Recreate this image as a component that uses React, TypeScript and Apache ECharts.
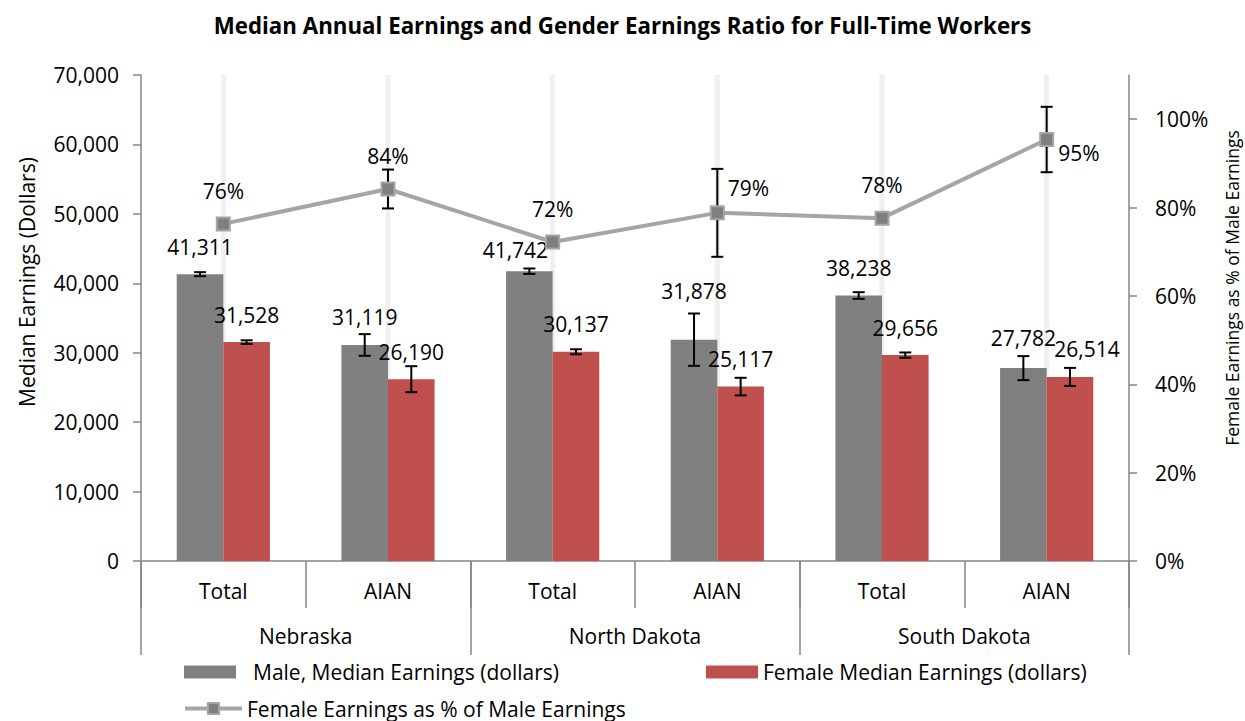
import React, { useEffect, useRef } from 'react';
import * as echarts from 'echarts';

// ---- data ----
const groups = ['Total', 'AIAN', 'Total', 'AIAN', 'Total', 'AIAN'];
const states = ['Nebraska', 'North Dakota', 'South Dakota'];
const maleEarnings = [41311, 31119, 41742, 31878, 38238, 27782];
const maleError = [290, 1560, 390, 3770, 480, 1730];
const femaleEarnings = [31528, 26190, 30137, 25117, 29656, 26514];
const femaleError = [260, 1870, 360, 1270, 380, 1300];
const ratio = [0.763, 0.842, 0.722, 0.788, 0.776, 0.954];
const ratioError = [0.005, 0.044, 0.005, 0.0995, 0.005, 0.074];
const leftTicks = [0, 10000, 20000, 30000, 40000, 50000, 60000, 70000];
const rightTicks = [0, 0.2, 0.4, 0.6, 0.8, 1.0];

const TITLE = 'Median Annual Earnings and Gender Earnings Ratio for Full-Time Workers';
const LEFT_NAME = 'Median Earnings (Dollars)';
const MALE_NAME = 'Male, Median Earnings (dollars)';
const FEMALE_NAME = 'Female Median Earnings (dollars)';
const RATIO_NAME = 'Female Earnings as % of Male Earnings';

const FONT = 'Open Sans';
const FS = 21;
const AXIS_COLOR = '#868686';
const BAR_GAP_PCT = 43.4;
const BAR_FRAC = (1 - BAR_GAP_PCT / 100) / 2;

// label placement tweaks (style only)
const ratioLabelPlacement: any[] = [
  { position: 'top', distance: 15 },
  { position: 'top', distance: 15 },
  { position: 'top', distance: 15 },
  { position: 'right', distance: 3, offset: [0, -25] },
  { position: 'top', distance: 15 },
  { position: 'right', distance: 4, offset: [0, 13] },
];
const maleLabelOffset: number[][] = [[0, 0], [0, 0], [-14, 6.5], [0, -21.6], [0, 0], [0, -3]];
const femaleLabelOffset: number[][] = [[0, 0], [0, 0], [0, 0], [0, 0], [0, 0], [17, -0.7]];

const errorBarRender = (sign: number) => (params: any, api: any) => {
  const i = api.value(0);
  const v = api.value(1);
  const e = api.value(2);
  const cw = api.size([1, 0])[0];
  const dx = (sign * cw * BAR_FRAC) / 2;
  const top = api.coord([i, v + e]);
  const bot = api.coord([i, v - e]);
  const x = top[0] + dx;
  const half = 6;
  const style = { stroke: '#000', lineWidth: 2 };
  return {
    type: 'group',
    children: [
      { type: 'line', shape: { x1: x, y1: top[1], x2: x, y2: bot[1] }, style },
      { type: 'line', shape: { x1: x - half, y1: top[1], x2: x + half, y2: top[1] }, style },
      { type: 'line', shape: { x1: x - half, y1: bot[1], x2: x + half, y2: bot[1] }, style },
    ],
  };
};

const bandRender = (params: any, api: any) => {
  const c = api.coord([api.value(0), 0]);
  const cs = params.coordSys;
  return {
    type: 'line',
    shape: { x1: c[0], y1: cs.y, x2: c[0], y2: cs.y + cs.height },
    style: { stroke: '#f0f0f0', lineWidth: 5 },
  };
};

const fmtNum = (v: number) => Math.round(v).toLocaleString('en-US');

export default function App() {
  const ref = useRef<HTMLDivElement>(null);
  useEffect(() => {
    if (!ref.current) return;
    const chart = echarts.init(ref.current, undefined, { renderer: 'svg' });
    const legendText = { fontFamily: FONT, fontSize: FS, color: '#000', lineHeight: 24 };
    const barLabel = {
      show: true,
      position: 'top',
      distance: 17,
      fontSize: FS,
      color: '#000',
      fontFamily: FONT,
      formatter: (p: any) => fmtNum(p.value),
    };
    const option: any = {
      animation: false,
      textStyle: { fontFamily: FONT, color: '#000' },
      title: {
        text: TITLE,
        left: 'center',
        top: 9,
        textStyle: { fontFamily: FONT, fontSize: 22.3, fontWeight: 'bold', color: '#000' },
      },
      graphic: [
        {
          type: 'text',
          x: 27,
          y: 282,
          rotation: Math.PI / 2,
          style: {
            text: LEFT_NAME,
            fontFamily: FONT,
            fontSize: 21,
            fill: '#000',
            align: 'center',
            verticalAlign: 'middle',
          },
        },
        {
          type: 'text',
          x: 1232,
          y: 288,
          rotation: Math.PI / 2,
          style: {
            text: RATIO_NAME,
            fontFamily: FONT,
            fontSize: 17.5,
            fill: '#000',
            align: 'center',
            verticalAlign: 'middle',
          },
        },
      ],
      grid: { left: 141, right: 116, top: 75, bottom: 160, containLabel: false, outerBoundsMode: 'none' },
      legend: [
        {
          data: [MALE_NAME],
          left: 184,
          top: 660,
          padding: 0,
          icon: 'rect',
          itemWidth: 52,
          itemHeight: 13,
          textStyle: { ...legendText, padding: [0, 0, 0, 12] },
        },
        {
          data: [FEMALE_NAME],
          left: 706,
          top: 660,
          padding: 0,
          icon: 'rect',
          itemWidth: 52,
          itemHeight: 13,
          textStyle: legendText,
        },
        {
          data: [RATIO_NAME],
          left: 183,
          top: 698,
          padding: 0,
          itemWidth: 57,
          itemHeight: 14,
          lineStyle: { width: 4, color: '#a5a5a5' },
          textStyle: { ...legendText, lineHeight: 20 },
        },
      ],
      xAxis: [
        {
          type: 'category',
          data: groups,
          position: 'bottom',
          axisLine: { show: true, lineStyle: { color: AXIS_COLOR, width: 1.5 } },
          axisTick: { show: true, length: 47, interval: 0, lineStyle: { color: AXIS_COLOR, width: 1.5 } },
          axisLabel: { interval: 0, margin: 19, fontSize: FS, color: '#000', fontFamily: FONT },
          splitLine: { show: false },
        },
        {
          type: 'category',
          data: states,
          position: 'bottom',
          axisLine: { show: false },
          axisTick: { show: true, length: 94, interval: 0, lineStyle: { color: AXIS_COLOR, width: 1.5 } },
          axisLabel: { interval: 0, margin: 64, fontSize: FS, color: '#000', fontFamily: FONT },
          splitLine: { show: false },
        },
      ],
      yAxis: [
        {
          type: 'value',
          min: 0,
          max: 70000,
          interval: 10000,
          axisLine: { show: true, lineStyle: { color: AXIS_COLOR, width: 1.5 } },
          axisTick: { show: true, length: 8, lineStyle: { color: AXIS_COLOR, width: 1.5 }, customValues: leftTicks },
          axisLabel: {
            margin: 22,
            fontSize: FS,
            color: '#000',
            fontFamily: FONT,
            customValues: leftTicks,
            formatter: (v: number) => fmtNum(v),
          },
          splitLine: { show: false },
        },
        {
          type: 'value',
          min: 0,
          max: 1.1,
          position: 'right',
          axisLine: { show: true, lineStyle: { color: AXIS_COLOR, width: 1.5 } },
          axisTick: { show: true, length: 8, lineStyle: { color: AXIS_COLOR, width: 1.5 }, customValues: rightTicks },
          axisLabel: {
            margin: 26,
            fontSize: FS,
            color: '#000',
            fontFamily: FONT,
            customValues: rightTicks,
            formatter: (v: number) => Math.round(v * 100) + '%',
          },
          splitLine: { show: false },
        },
      ],
      series: [
        {
          type: 'custom',
          xAxisIndex: 0,
          yAxisIndex: 0,
          z: 1,
          silent: true,
          renderItem: bandRender,
          encode: { x: 0, y: 1 },
          data: groups.map((_, i) => [i, 0]),
        },
        {
          name: MALE_NAME,
          type: 'bar',
          xAxisIndex: 0,
          yAxisIndex: 0,
          z: 2,
          barGap: '0%',
          barCategoryGap: BAR_GAP_PCT + '%',
          itemStyle: { color: '#808080' },
          label: barLabel,
          data: maleEarnings.map((v, i) => ({ value: v, label: { offset: maleLabelOffset[i] } })),
        },
        {
          name: FEMALE_NAME,
          type: 'bar',
          xAxisIndex: 0,
          yAxisIndex: 0,
          z: 2,
          barGap: '0%',
          barCategoryGap: BAR_GAP_PCT + '%',
          itemStyle: { color: '#c0504d' },
          label: barLabel,
          data: femaleEarnings.map((v, i) => ({ value: v, label: { offset: femaleLabelOffset[i] } })),
        },
        {
          type: 'custom',
          xAxisIndex: 0,
          yAxisIndex: 0,
          z: 3,
          silent: true,
          renderItem: errorBarRender(-1),
          encode: { x: 0, y: 1 },
          data: maleEarnings.map((v, i) => [i, v, maleError[i]]),
        },
        {
          type: 'custom',
          xAxisIndex: 0,
          yAxisIndex: 0,
          z: 3,
          silent: true,
          renderItem: errorBarRender(1),
          encode: { x: 0, y: 1 },
          data: femaleEarnings.map((v, i) => [i, v, femaleError[i]]),
        },
        {
          type: 'custom',
          xAxisIndex: 0,
          yAxisIndex: 1,
          z: 4,
          silent: true,
          renderItem: errorBarRender(0),
          encode: { x: 0, y: 1 },
          data: ratio.map((v, i) => [i, v, ratioError[i]]),
        },
        {
          name: RATIO_NAME,
          type: 'line',
          xAxisIndex: 0,
          yAxisIndex: 1,
          z: 5,
          symbol: 'rect',
          symbolSize: 13,
          lineStyle: { color: '#a5a5a5', width: 4 },
          itemStyle: { color: '#7f7f7f', borderColor: '#a5a5a5', borderWidth: 2 },
          label: {
            show: true,
            fontSize: FS,
            color: '#000',
            fontFamily: FONT,
            formatter: (p: any) => Math.round(p.value * 100) + '%',
          },
          data: ratio.map((v, i) => ({ value: v, label: ratioLabelPlacement[i] })),
        },
      ],
    };
    chart.setOption(option);
    return () => chart.dispose();
  }, []);
  return (
    <div
      ref={ref}
      style={{ position: 'fixed', left: 0, top: 0, width: 1245, height: 721, background: '#fff' }}
    />
  );
}
